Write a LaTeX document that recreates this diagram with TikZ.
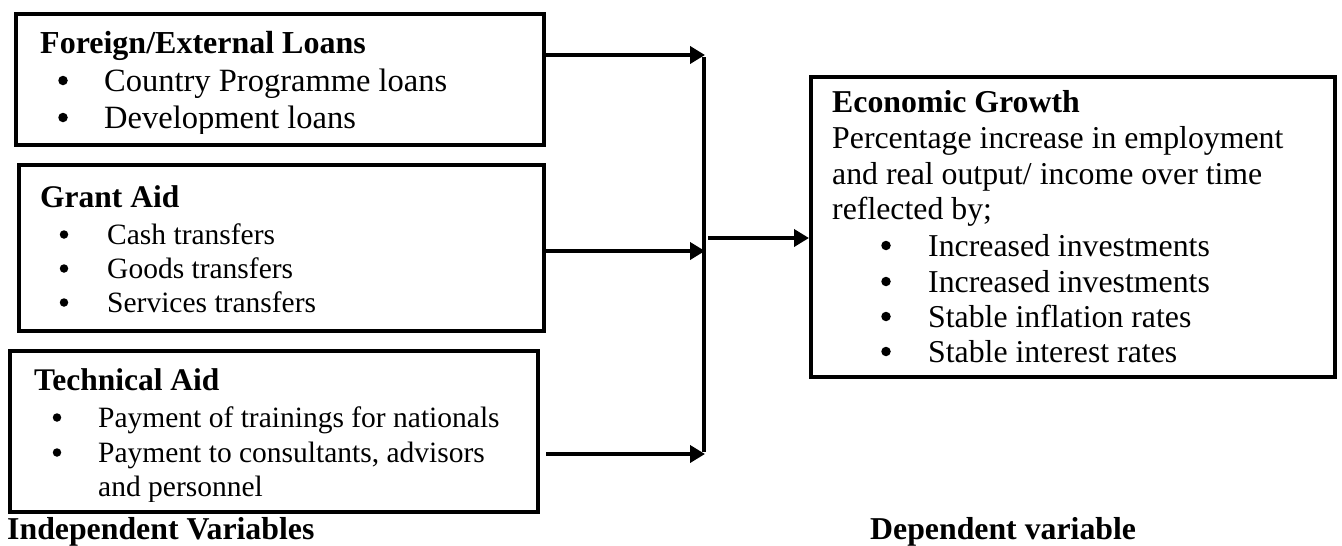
\documentclass[tikz,border=0pt]{standalone}
\usepackage{fontspec}
\setmainfont{Liberation Serif}
\usetikzlibrary{arrows.meta}
\newcommand\fhdA{\fontsize{32}{36}\selectfont\bfseries}
\newcommand\fbdA{\fontsize{32.5}{36}\selectfont}
\newcommand\fhdL{\fontsize{31.5}{36}\selectfont\bfseries}
\newcommand\fbdL{\fontsize{29.5}{34}\selectfont}
\newcommand\fhdR{\fontsize{31.8}{36}\selectfont\bfseries}
\newcommand\fbdR{\fontsize{31.8}{36}\selectfont}
\begin{document}
\begin{tikzpicture}[x=1pt,y=-1pt,
  box/.style={draw, line width=4pt, anchor=north west, inner sep=0pt},
  txt/.style={anchor=base west, inner sep=0pt},
  dotA/.style={circle, fill, inner sep=0pt, minimum size=9.5pt, yshift=10.5pt},
  dotB/.style={circle, fill, inner sep=0pt, minimum size=8.5pt, yshift=9.5pt},
  arr/.style={line width=4pt, -{Triangle[length=15pt,width=17pt]}},
  ln/.style={line width=4pt}]
\useasboundingbox (0,0) rectangle (1342,546);
% boxes
\node[box, minimum width=528pt, minimum height=131pt] (b1) at (14,12) {};
\node[box, minimum width=525pt, minimum height=166pt] (b2) at (17,163) {};
\node[box, minimum width=528pt, minimum height=161pt] (b3) at (8,349) {};
\node[box, minimum width=524pt, minimum height=300pt] (b4) at (809,75) {};
% box 1 text
\begin{scope}
\clip (16,14) rectangle (540,133);
\node[txt] (h1) at (40,53) {\fhdA Foreign/External Loans};
\node[dotA] (d11) at (63,91) {};
\node[txt] (t11) at (104,91) {\fbdA Country Programme loans};
\node[dotA] (d12) at (63,128) {};
\node[txt] (t12) at (104,128) {\fbdA Development loans};
\end{scope}
% box 2 text
\node[txt] (h2) at (40,207) {\fhdL Grant Aid};
\node[dotB] (d21) at (64,244) {};
\node[txt] (t21) at (107,244) {\fbdL Cash transfers};
\node[dotB] (d22) at (64,278) {};
\node[txt] (t22) at (107,278) {\fbdL Goods transfers};
\node[dotB] (d23) at (64,312) {};
\node[txt] (t23) at (107,312) {\fbdL Services transfers};
% box 3 text
\begin{scope}
\clip (10,351) rectangle (534,501);
\node[txt] (h3) at (34,390) {\fhdL Technical Aid};
\node[dotB] (d31) at (57,427) {};
\node[txt] (t31) at (98,427) {\fbdL Payment of trainings for nationals};
\node[dotB] (d32) at (57,462) {};
\node[txt] (t32) at (98,462) {\fbdL Payment to consultants, advisors};
\node[txt] (t33) at (98,496) {\fbdL and personnel};
\end{scope}
% box 4 text
\node[txt] (h4) at (832,112) {\fhdR Economic Growth};
\node[txt] (t41) at (832,148) {\fbdR Percentage increase in employment};
\node[txt] (t42) at (832,184) {\fbdR and real output/ income over time};
\node[txt] (t43) at (832,219) {\fbdR reflected by;};
\node[dotA] (d44) at (886,256) {};
\node[txt] (t44) at (928,256) {\fbdR Increased investments};
\node[dotA] (d45) at (886,292) {};
\node[txt] (t45) at (928,292) {\fbdR Increased investments};
\node[dotA] (d46) at (886,327) {};
\node[txt] (t46) at (928,327) {\fbdR Stable inflation rates};
\node[dotA] (d47) at (886,362) {};
\node[txt] (t47) at (928,362) {\fbdR Stable interest rates};
% labels
\node[txt] (l1) at (7,539) {\fhdR Independent Variables};
\node[txt] (l2) at (870,539) {\fhdR Dependent variable};
% connectors
\coordinate (j1) at (705,55);
\coordinate (j2) at (705,251);
\coordinate (j3) at (705,454);
\coordinate (j4) at (708,238);
\draw[arr] (b1.east |- j1) -- (j1);
\draw[arr] (b2.east |- j2) -- (j2);
\draw[arr] ([xshift=6pt]b3.east |- j3) -- (j3);
\draw[ln] ([xshift=-1pt,yshift=-2pt]j1) -- ([xshift=-1pt,yshift=2pt]j3);
\draw[arr] (j4) -- (b4.west |- j4);
\end{tikzpicture}
\end{document}
